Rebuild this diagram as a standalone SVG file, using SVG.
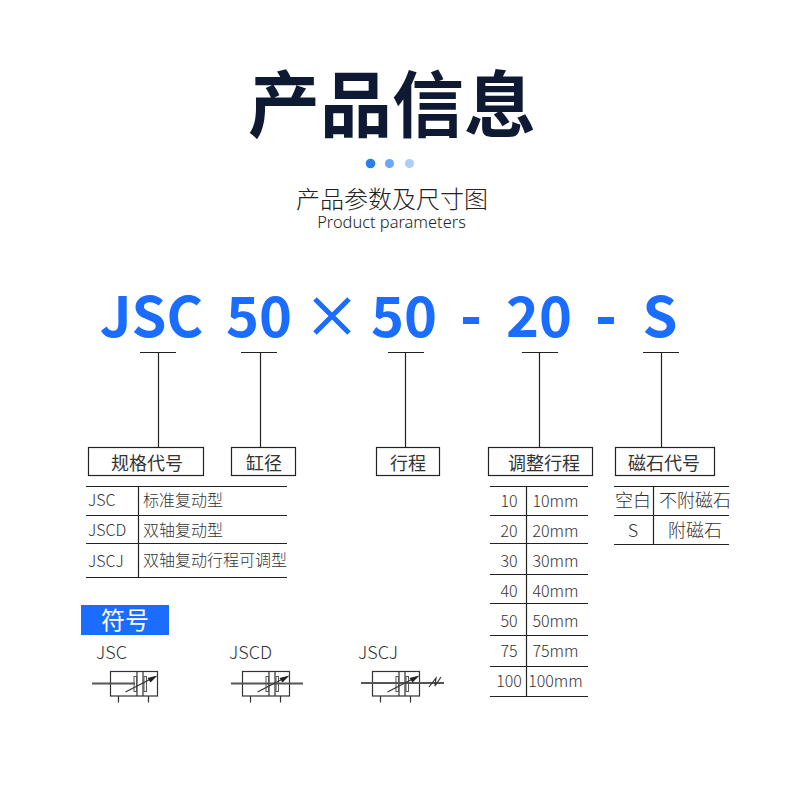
<svg xmlns="http://www.w3.org/2000/svg" width="800" height="800" viewBox="0 0 800 800">
<style>
text{font-family:"Noto Sans CJK SC","Noto Sans",sans-serif;fill:#333}
.m{text-anchor:middle}
.big{font-size:56px;font-weight:700;fill:#1a6dff}
.t{font-size:18px;font-weight:400}
.s{font-size:16px;font-weight:300}
.c{font-size:18px;font-weight:300}
.l{stroke:#222;stroke-width:1.2;fill:none}
.box{stroke:#222;stroke-width:1.2;fill:#fff}
.sym{stroke:#333;stroke-width:1.2;fill:none}
.pl{stroke:#555;stroke-width:1;fill:#fff}
.rod{stroke:#555;stroke-width:2.2;fill:none}
.a{fill:#222}
</style>
<defs>
<g id="cyl">
<rect class="sym" x="0" y="0" width="47" height="24.500"/>
<path class="sym" d="M26.500 0V24.500M32.500 0V24.500M8 24.500V31M38 24.500V31"/>
<rect class="pl" x="23.500" y="5" width="2.500" height="15"/>
<rect class="pl" x="33.500" y="5" width="2.500" height="15"/>
</g>
<g id="arrow">
<path class="sym" d="M15 20.500L44 5.500"/>
<path class="a" d="M47 4L37 6.500L40 11Z"/>
</g>
</defs>
<g id="title">
<text class="m" x="392" y="131" font-size="72" font-weight="700" style="fill:#0e1a33">产品信息</text>
<circle cx="370.500" cy="163.500" r="4.800" fill="#2a7fe8"/>
<circle cx="389.500" cy="163.500" r="4.500" fill="#6ba8f2"/>
<circle cx="409.500" cy="163.500" r="4.500" fill="#abcdf7"/>
<text class="m" x="392" y="208" font-size="24" font-weight="300" style="fill:#222">产品参数及尺寸图</text>
<text class="m" x="391.500" y="228" font-size="16.400" font-weight="300" style="fill:#222;font-family:'Noto Sans',sans-serif">Product parameters</text>
</g>
<g id="model">
<text class="big m" x="151.500" y="337">JSC</text>
<text class="big m" x="259" y="337">50</text>
<path d="M315 299L349 333M349 299L315 333" stroke="#1a6dff" stroke-width="5" fill="none"/>
<text class="big m" x="404" y="337">50</text>
<rect x="463" y="317" width="16" height="7" fill="#1a6dff"/>
<text class="big m" x="539" y="337">20</text>
<rect x="598" y="317" width="16" height="7" fill="#1a6dff"/>
<text class="big m" x="660" y="337">S</text>
</g>
<g id="connectors">
<path class="l" d="M140 352.500H176M158.500 352.500V447M241 352.500H277M260.500 352.500V447M388 352.500H424M405.500 352.500V447M522 352.500H558M539.500 352.500V447M643 352.500H679M661.500 352.500V447"/>
</g>
<g id="node-spec">
<rect class="box" x="88.500" y="447.500" width="115" height="28"/>
<text class="t m" x="147" y="470">规格代号</text>
<path class="l" d="M86 486.500H287M86 515.500H287M86 543.500H287M86 577.500H287M138.500 486V577"/>
<text class="s" x="88" y="506">JSC</text>
<text class="s" x="88" y="536">JSCD</text>
<text class="s" x="88" y="567">JSCJ</text>
<text class="s" x="143" y="506">标准复动型</text>
<text class="s" x="143" y="536">双轴复动型</text>
<text class="s" x="143" y="566">双轴复动行程可调型</text>
</g>
<g id="node-bore">
<rect class="box" x="231.500" y="447.500" width="64" height="28"/>
<text class="t m" x="264" y="470">缸径</text>
</g>
<g id="node-stroke">
<rect class="box" x="376.500" y="447.500" width="63" height="28"/>
<text class="t m" x="408" y="470">行程</text>
</g>
<g id="node-adjust">
<rect class="box" x="488.500" y="447.500" width="104" height="28"/>
<text class="t m" x="544" y="470">调整行程</text>
<path class="l" d="M490 486.500H588M490 515.500H588M490 543.500H588M490 574.500H588M490 603.500H588M490 635.500H588M490 666.500H588M490 696.500H588M526.500 486V696"/>
<g class="s m">
<text x="509" y="507">10</text><text x="555.500" y="507">10mm</text>
<text x="509" y="537">20</text><text x="555.500" y="537">20mm</text>
<text x="509" y="567">30</text><text x="555.500" y="567">30mm</text>
<text x="509" y="597">40</text><text x="555.500" y="597">40mm</text>
<text x="509" y="627">50</text><text x="555.500" y="627">50mm</text>
<text x="509" y="657">75</text><text x="555.500" y="657">75mm</text>
<text x="509" y="687">100</text><text x="555.500" y="687">100mm</text>
</g>
</g>
<g id="node-magnet">
<rect class="box" x="615.500" y="447.500" width="99" height="28"/>
<text class="t m" x="664" y="470">磁石代号</text>
<path class="l" d="M614 486.500H729M614 515.500H729M614 544.500H729M653.500 486V544"/>
<text class="c m" x="633" y="507">空白</text>
<text class="c m" x="695" y="507">不附磁石</text>
<text class="c m" x="633" y="537">S</text>
<text class="c m" x="695" y="537">附磁石</text>
</g>
<g id="symbols">
<rect x="81" y="605" width="88" height="30" fill="#1a6dff"/>
<text class="m" x="125" y="629" font-size="24" style="fill:#fff">符号</text>
<text class="c" x="96" y="659">JSC</text>
<text class="c" x="229" y="659">JSCD</text>
<text class="c" x="358" y="659">JSCJ</text>
<use href="#cyl" x="110.500" y="671.500"/>
<path class="rod" d="M92 683.500H135"/>
<use href="#arrow" x="110.500" y="671.500"/>
<use href="#cyl" x="242.500" y="671.500"/>
<path class="rod" d="M231 683.500H303"/>
<use href="#arrow" x="242.500" y="671.500"/>
<use href="#cyl" x="372.500" y="671.500"/>
<path class="rod" d="M361 683H444"/>
<use href="#arrow" x="372.500" y="671.500"/>
<path class="sym" d="M429 687L436 678L435 686L441 677"/>
</g>
</svg>
